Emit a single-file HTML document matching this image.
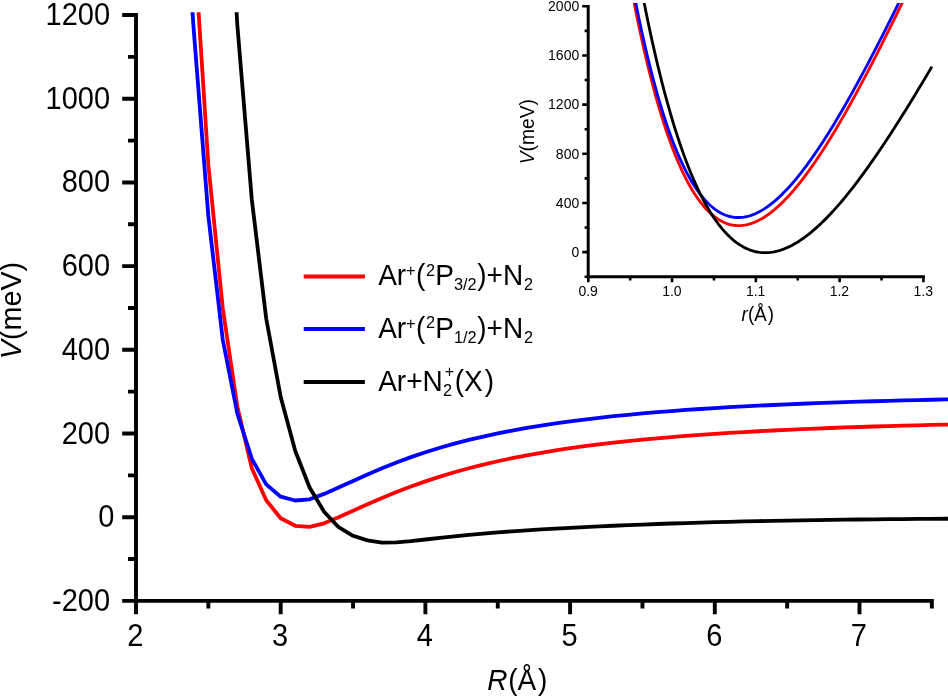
<!DOCTYPE html>
<html lang="en"><head><meta charset="utf-8"><title>Potential energy curves</title>
<style>html,body{margin:0;padding:0;background:#fff;overflow:hidden}svg{display:block;will-change:transform}text{font-family:"Liberation Sans",sans-serif;fill:#000}.i{font-style:italic}</style></head><body>
<svg width="948" height="696" viewBox="0 0 948 696">
<rect width="948" height="696" fill="#fff"/>
<defs><clipPath id="cm"><rect x="0" y="12.2" width="948" height="700"/></clipPath><clipPath id="ci"><rect x="560" y="3.1" width="388" height="300"/></clipPath></defs>
<g clip-path="url(#cm)" fill="none" stroke-width="3.8" stroke-linejoin="round">
<polyline stroke="#f00" points="179.4,-330 193.9,-61.4 208.35,164.9 222.8,308.5 237.3,406.4 251.8,468.3 266.2,500.3 280.7,518.2 295.2,525.8 309.6,526.8 324.1,523.3 338.58,517.18 353.05,510.68 367.52,504.19 381.99,497.93 396.46,492 410.93,486.47 425.4,481.34 439.87,476.62 454.34,472.27 468.81,468.28 483.28,464.62 497.75,461.26 512.22,458.19 526.69,455.36 541.16,452.78 555.63,450.4 570.1,448.21 584.57,446.2 599.04,444.35 613.51,442.65 627.98,441.07 642.45,439.62 656.92,438.27 671.39,437.03 685.86,435.88 700.33,434.81 714.8,433.82 729.27,432.9 743.74,432.04 758.21,431.25 772.68,430.5 787.15,429.81 801.62,429.17 816.09,428.56 830.56,428 845.03,427.47 859.5,426.98 873.97,426.52 888.44,426.08 902.91,425.68 917.38,425.3 931.85,424.94 946.32,424.6 955,424.41"/>
<polyline stroke="#00f" points="179.4,-172 193.9,32 208.35,216 222.8,340 237.3,413.5 251.8,458.7 266.2,484.4 280.7,496.7 295.2,500.5 309.6,499.3 324.1,493.9 338.58,487.54 353.05,480.91 367.52,474.41 381.99,468.24 396.46,462.47 410.93,457.15 425.4,452.25 439.87,447.78 454.34,443.68 468.81,439.95 483.28,436.54 497.75,433.42 512.22,430.57 526.69,427.96 541.16,425.57 555.63,423.37 570.1,421.36 584.57,419.51 599.04,417.8 613.51,416.23 627.98,414.77 642.45,413.43 656.92,412.19 671.39,411.04 685.86,409.97 700.33,408.98 714.8,408.07 729.27,407.21 743.74,406.41 758.21,405.67 772.68,404.98 787.15,404.34 801.62,403.73 816.09,403.17 830.56,402.64 845.03,402.15 859.5,401.69 873.97,401.25 888.44,400.85 902.91,400.46 917.38,400.1 931.85,399.77 946.32,399.45 955,399.27"/>
<polyline stroke="#000" points="222.8,-221 237.3,24.6 251.8,199.5 266.2,318.5 280.7,397 295.2,450.8 309.6,487.5 324.1,511.7 338.6,527.2 353.05,535.8 367.5,540.4 381.99,542.53 396.46,542.35 410.93,541.1 425.4,539.49 439.87,537.83 454.34,536.27 468.81,534.84 483.28,533.56 497.75,532.39 512.22,531.33 526.69,530.36 541.16,529.46 555.63,528.62 570.1,527.84 584.57,527.1 599.04,526.41 613.51,525.76 627.98,525.14 642.45,524.56 656.92,524.02 671.39,523.52 685.86,523.04 700.33,522.6 714.8,522.19 729.27,521.81 743.74,521.46 758.21,521.14 772.68,520.84 787.15,520.57 801.62,520.31 816.09,520.08 830.56,519.87 845.03,519.68 859.5,519.51 873.97,519.35 888.44,519.2 902.91,519.08 917.38,518.96 931.85,518.85 946.32,518.76 955,518.71"/>
</g>
<path d="M136 13.11V602.85M134.05 600.9H933.8M122.2 600.9H136M128 559.05H136M122.2 517.21H136M128 475.36H136M122.2 433.52H136M128 391.67H136M122.2 349.82H136M128 307.98H136M122.2 266.13H136M128 224.29H136M122.2 182.44H136M128 140.59H136M122.2 98.75H136M128 56.9H136M122.2 15.06H136M136 600.9V614.3M208.35 600.9V608.5M280.7 600.9V614.3M353.05 600.9V608.5M425.4 600.9V614.3M497.75 600.9V608.5M570.1 600.9V614.3M642.45 600.9V608.5M714.8 600.9V614.3M787.15 600.9V608.5M859.5 600.9V614.3M931.85 600.9V608.5" fill="none" stroke="#000" stroke-width="3.9"/>
<text transform="translate(110.1 610.9) scale(1 1.05)" font-size="29" text-anchor="end">-200</text>
<text transform="translate(114.4 527.21) scale(1 1.05)" font-size="29" text-anchor="end">0</text>
<text transform="translate(110.1 443.52) scale(1 1.05)" font-size="29" text-anchor="end">200</text>
<text transform="translate(110.1 359.82) scale(1 1.05)" font-size="29" text-anchor="end">400</text>
<text transform="translate(110.1 276.13) scale(1 1.05)" font-size="29" text-anchor="end">600</text>
<text transform="translate(110.1 192.44) scale(1 1.05)" font-size="29" text-anchor="end">800</text>
<text transform="translate(110.1 108.75) scale(1 1.05)" font-size="29" text-anchor="end">1000</text>
<text transform="translate(110.1 25.06) scale(1 1.05)" font-size="29" text-anchor="end">1200</text>
<text transform="translate(135.4 645.5) scale(1 1.05)" font-size="29" text-anchor="middle">2</text>
<text transform="translate(280.1 645.5) scale(1 1.05)" font-size="29" text-anchor="middle">3</text>
<text transform="translate(424.8 645.5) scale(1 1.05)" font-size="29" text-anchor="middle">4</text>
<text transform="translate(569.5 645.5) scale(1 1.05)" font-size="29" text-anchor="middle">5</text>
<text transform="translate(714.2 645.5) scale(1 1.05)" font-size="29" text-anchor="middle">6</text>
<text transform="translate(858.9 645.5) scale(1 1.05)" font-size="29" text-anchor="middle">7</text>
<text transform="translate(487.3 689.9) scale(1 1.05)" font-size="28"><tspan x="0" y="0" class="i">R</tspan><tspan x="20.9" y="0">(Å</tspan><tspan x="50.6" y="0">)</tspan></text>
<text transform="translate(20.9 359.2) rotate(-90) scale(1 1.05)" font-size="28.7"><tspan x="0" y="0" class="i">V</tspan><tspan x="19.2" y="0">(meV)</tspan></text>
<g stroke-width="4" fill="none">
<path d="M303.7 276.4H364.9" stroke="#f00"/>
<path d="M303.7 329.1H364.9" stroke="#00f"/>
<path d="M303.7 381.9H364.9" stroke="#000"/>
</g>
<text transform="translate(378.2 284.7) scale(1 1.05)" font-size="28"><tspan x="0" y="0">Ar</tspan><tspan x="27.7" y="-8.38" font-size="16.3">+</tspan><tspan x="37.8" y="0">(</tspan><tspan x="47.8" y="-8.67" font-size="16.3">2</tspan><tspan x="57" y="0">P</tspan><tspan x="75.8" y="5.05" font-size="16.3">3/2</tspan><tspan x="99.1" y="0">)+N</tspan><tspan x="145.8" y="5.05" font-size="16.3">2</tspan></text>
<text transform="translate(378.2 337.5) scale(1 1.05)" font-size="28"><tspan x="0" y="0">Ar</tspan><tspan x="27.7" y="-8.38" font-size="16.3">+</tspan><tspan x="37.8" y="0">(</tspan><tspan x="47.8" y="-8.67" font-size="16.3">2</tspan><tspan x="57" y="0">P</tspan><tspan x="75.8" y="5.05" font-size="16.3">1/2</tspan><tspan x="99.1" y="0">)+N</tspan><tspan x="145.8" y="5.05" font-size="16.3">2</tspan></text>
<text transform="translate(378.2 390.6) scale(1 1.05)" font-size="28"><tspan x="0" y="0">Ar+N</tspan><tspan x="64.8" y="4.95" font-size="16.3">2</tspan><tspan x="66.5" y="-12.76" font-size="16.3">+</tspan><tspan x="76.5" y="0">(X</tspan><tspan x="106.5" y="0">)</tspan></text>
<g clip-path="url(#ci)" fill="none" stroke-width="2.85" stroke-linejoin="round">
<polyline stroke="#f00" points="630.2,-17.9 632.2,-7.25 634.2,3.09 636.2,13.12 638.2,22.85 640.2,32.29 642.2,41.44 644.2,50.3 646.2,58.88 648.2,67.19 650.2,75.23 652.2,83.01 654.2,90.53 656.2,97.79 658.2,104.81 660.2,111.57 662.2,118.1 664.2,124.39 666.2,130.45 668.2,136.28 670.2,141.89 672.2,147.28 674.2,152.45 676.2,157.41 678.2,162.17 680.2,166.72 682.2,171.07 684.2,175.23 686.2,179.2 688.2,182.97 690.2,186.56 692.2,189.97 694.2,193.2 696.2,196.26 698.2,199.15 700.2,201.87 702.2,204.42 704.2,206.81 706.2,209.05 708.2,211.13 710.2,213.05 712.2,214.83 714.2,216.46 716.2,217.95 718.2,219.29 720.2,220.5 722.2,221.57 724.2,222.51 726.2,223.32 728.2,224.01 730.2,224.56 732.2,225 734.2,225.32 736.2,225.51 738.2,225.6 740.2,225.57 742.2,225.43 744.2,225.18 746.2,224.82 748.2,224.36 750.2,223.8 752.2,223.14 754.2,222.39 756.2,221.53 758.2,220.59 760.2,219.55 762.2,218.42 764.2,217.21 766.2,215.9 768.2,214.52 770.2,213.05 772.2,211.5 774.2,209.88 776.2,208.17 778.2,206.39 780.2,204.54 782.2,202.62 784.2,200.62 786.2,198.56 788.2,196.43 790.2,194.23 792.2,191.97 794.2,189.64 796.2,187.26 798.2,184.81 800.2,182.31 802.2,179.75 804.2,177.13 806.2,174.46 808.2,171.73 810.2,168.95 812.2,166.13 814.2,163.25 816.2,160.32 818.2,157.35 820.2,154.33 822.2,151.27 824.2,148.16 826.2,145.01 828.2,141.82 830.2,138.59 832.2,135.31 834.2,132 836.2,128.66 838.2,125.27 840.2,121.85 842.2,118.4 844.2,114.92 846.2,111.4 848.2,107.85 850.2,104.26 852.2,100.65 854.2,97.01 856.2,93.34 858.2,89.65 860.2,85.93 862.2,82.18 864.2,78.41 866.2,74.61 868.2,70.79 870.2,66.95 872.2,63.08 874.2,59.2 876.2,55.29 878.2,51.37 880.2,47.42 882.2,43.46 884.2,39.48 886.2,35.48 888.2,31.46 890.2,27.43 892.2,23.39 894.2,19.33 896.2,15.26 898.2,11.17 900.2,7.07 902.2,2.96 904.2,-1.17 906.1,-5.1"/>
<polyline stroke="#00f" points="631.8,-17.63 633.8,-7.15 635.8,3.02 637.8,12.88 639.8,22.44 641.8,31.71 643.8,40.68 645.8,49.37 647.8,57.78 649.8,65.92 651.8,73.78 653.8,81.39 655.8,88.73 657.8,95.82 659.8,102.66 661.8,109.25 663.8,115.61 665.8,121.73 667.8,127.61 669.8,133.27 671.8,138.71 673.8,143.93 675.8,148.94 677.8,153.73 679.8,158.32 681.8,162.71 683.8,166.9 685.8,170.89 687.8,174.69 689.8,178.31 691.8,181.74 693.8,185 695.8,188.07 697.8,190.98 699.8,193.71 701.8,196.28 703.8,198.69 705.8,200.93 707.8,203.02 709.8,204.95 711.8,206.74 713.8,208.38 715.8,209.87 717.8,211.22 719.8,212.43 721.8,213.51 723.8,214.45 725.8,215.26 727.8,215.95 729.8,216.51 731.8,216.94 733.8,217.26 735.8,217.46 737.8,217.54 739.8,217.51 741.8,217.37 743.8,217.12 745.8,216.77 747.8,216.31 749.8,215.75 751.8,215.09 753.8,214.33 755.8,213.48 757.8,212.53 759.8,211.49 761.8,210.37 763.8,209.15 765.8,207.85 767.8,206.47 769.8,205 771.8,203.46 773.8,201.84 775.8,200.14 777.8,198.36 779.8,196.51 781.8,194.6 783.8,192.61 785.8,190.55 787.8,188.43 789.8,186.24 791.8,183.98 793.8,181.67 795.8,179.3 797.8,176.86 799.8,174.37 801.8,171.82 803.8,169.22 805.8,166.56 807.8,163.85 809.8,161.09 811.8,158.28 813.8,155.42 815.8,152.51 817.8,149.56 819.8,146.56 821.8,143.52 823.8,140.43 825.8,137.3 827.8,134.14 829.8,130.93 831.8,127.69 833.8,124.4 835.8,121.08 837.8,117.73 839.8,114.34 841.8,110.92 843.8,107.47 845.8,103.98 847.8,100.46 849.8,96.92 851.8,93.34 853.8,89.74 855.8,86.11 857.8,82.45 859.8,78.77 861.8,75.06 863.8,71.33 865.8,67.58 867.8,63.8 869.8,60.01 871.8,56.19 873.8,52.35 875.8,48.49 877.8,44.61 879.8,40.72 881.8,36.81 883.8,32.88 885.8,28.93 887.8,24.97 889.8,20.99 891.8,17 893.8,13 895.8,8.98 897.8,4.96 899.8,0.91 901.8,-3.14 902.7,-4.97"/>
<polyline stroke="#000" points="640.2,-17.63 642.2,-7.13 644.2,3.09 646.2,13.04 648.2,22.71 650.2,32.12 652.2,41.28 654.2,50.17 656.2,58.82 658.2,67.22 660.2,75.38 662.2,83.3 664.2,90.99 666.2,98.44 668.2,105.67 670.2,112.69 672.2,119.48 674.2,126.06 676.2,132.43 678.2,138.59 680.2,144.55 682.2,150.31 684.2,155.88 686.2,161.25 688.2,166.44 690.2,171.44 692.2,176.25 694.2,180.89 696.2,185.36 698.2,189.65 700.2,193.77 702.2,197.73 704.2,201.53 706.2,205.16 708.2,208.64 710.2,211.96 712.2,215.13 714.2,218.16 716.2,221.03 718.2,223.77 720.2,226.36 722.2,228.81 724.2,231.13 726.2,233.32 728.2,235.38 730.2,237.31 732.2,239.11 734.2,240.79 736.2,242.35 738.2,243.79 740.2,245.11 742.2,246.32 744.2,247.42 746.2,248.4 748.2,249.28 750.2,250.05 752.2,250.72 754.2,251.29 756.2,251.76 758.2,252.13 760.2,252.4 762.2,252.58 764.2,252.67 766.2,252.67 768.2,252.58 770.2,252.4 772.2,252.13 774.2,251.79 776.2,251.36 778.2,250.85 780.2,250.26 782.2,249.6 784.2,248.86 786.2,248.04 788.2,247.15 790.2,246.2 792.2,245.17 794.2,244.07 796.2,242.91 798.2,241.69 800.2,240.39 802.2,239.04 804.2,237.63 806.2,236.15 808.2,234.62 810.2,233.03 812.2,231.38 814.2,229.68 816.2,227.92 818.2,226.11 820.2,224.25 822.2,222.34 824.2,220.38 826.2,218.37 828.2,216.32 830.2,214.22 832.2,212.07 834.2,209.88 836.2,207.65 838.2,205.38 840.2,203.06 842.2,200.71 844.2,198.31 846.2,195.88 848.2,193.41 850.2,190.9 852.2,188.36 854.2,185.79 856.2,183.18 858.2,180.53 860.2,177.86 862.2,175.15 864.2,172.42 866.2,169.65 868.2,166.86 870.2,164.03 872.2,161.18 874.2,158.31 876.2,155.4 878.2,152.48 880.2,149.52 882.2,146.55 884.2,143.55 886.2,140.52 888.2,137.48 890.2,134.41 892.2,131.33 894.2,128.22 896.2,125.1 898.2,121.95 900.2,118.79 902.2,115.61 904.2,112.41 906.2,109.2 908.2,105.97 910.2,102.72 912.2,99.46 914.2,96.18 916.2,92.89 918.2,89.59 920.2,86.28 922.2,82.95 924.2,79.61 926.2,76.26 928.2,72.89 930.2,69.52 931.9,66.64"/>
</g>
<path d="M588.2 5V278.24M586.7 276.74H924.9" fill="none" stroke="#000" stroke-width="3.0"/>
<path d="M584.6 276.74H588.3M582.2 252.15H588.3M584.6 227.56H588.3M582.2 202.98H588.3M584.6 178.39H588.3M582.2 153.81H588.3M584.6 129.22H588.3M582.2 104.64H588.3M584.6 80.06H588.3M582.2 55.47H588.3M584.6 30.88H588.3M582.2 6.3H588.3M588.3 276.74V282.2M630.19 276.74V280.4M672.07 276.74V282.2M713.96 276.74V280.4M755.85 276.74V282.2M797.74 276.74V280.4M839.63 276.74V282.2M881.51 276.74V280.4M923.4 276.74V282.2" fill="none" stroke="#000" stroke-width="2.6"/>
<text transform="translate(579.2 256.95) scale(1 1.05)" font-size="14" text-anchor="end">0</text>
<text transform="translate(579.2 207.78) scale(1 1.05)" font-size="14" text-anchor="end">400</text>
<text transform="translate(579.2 158.61) scale(1 1.05)" font-size="14" text-anchor="end">800</text>
<text transform="translate(579.2 109.44) scale(1 1.05)" font-size="14" text-anchor="end">1200</text>
<text transform="translate(579.2 60.27) scale(1 1.05)" font-size="14" text-anchor="end">1600</text>
<text transform="translate(579.2 11.1) scale(1 1.05)" font-size="14" text-anchor="end">2000</text>
<text transform="translate(588.1 295.8) scale(1 1.05)" font-size="14" text-anchor="middle">0.9</text>
<text transform="translate(671.87 295.8) scale(1 1.05)" font-size="14" text-anchor="middle">1.0</text>
<text transform="translate(755.65 295.8) scale(1 1.05)" font-size="14" text-anchor="middle">1.1</text>
<text transform="translate(839.43 295.8) scale(1 1.05)" font-size="14" text-anchor="middle">1.2</text>
<text transform="translate(923.2 295.8) scale(1 1.05)" font-size="14" text-anchor="middle">1.3</text>
<text transform="translate(741.6 320.8) scale(1 1.05)" font-size="18.7"><tspan x="0" y="0" class="i">r</tspan><tspan x="6.4" y="0">(Å</tspan><tspan x="26.2" y="0">)</tspan></text>
<text transform="translate(533.7 164.2) rotate(-90) scale(1 1.05)" font-size="19.2"><tspan x="0" y="0" class="i">V</tspan><tspan x="12.8" y="0">(meV)</tspan></text>
</svg></body></html>
